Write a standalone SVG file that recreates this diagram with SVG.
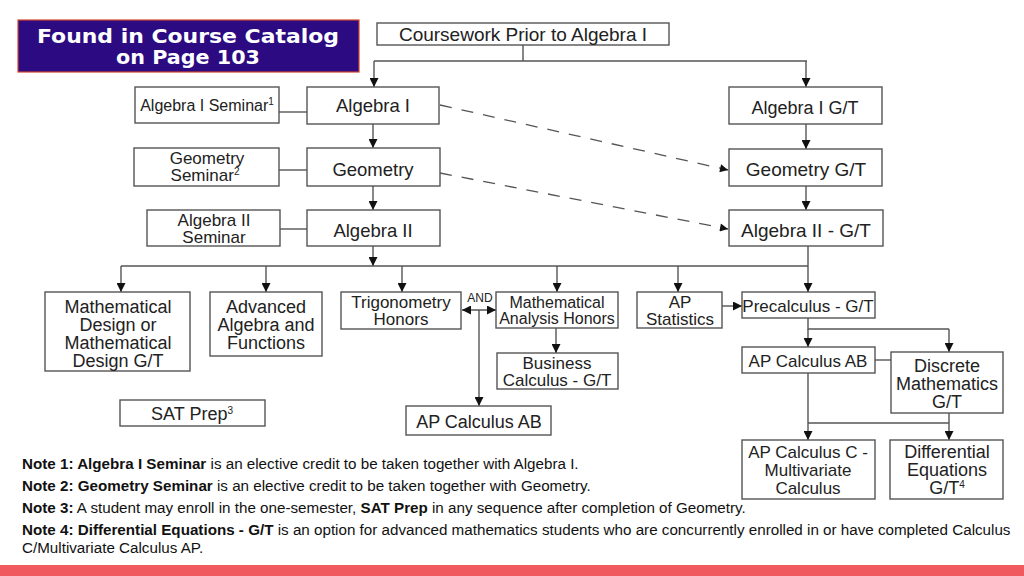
<svg xmlns="http://www.w3.org/2000/svg" width="1024" height="576" viewBox="0 0 1024 576">
<defs>
<style>
.box{fill:#fff;stroke:#555;stroke-width:1.4}
.t{font-family:"Liberation Sans",Arial,sans-serif;font-size:18.5px;fill:#222;text-anchor:middle}
.s16{font-size:16px}
.s17{font-size:17px}
.s18{font-size:18px}
.s19{font-size:19px}
.ln{fill:none;stroke:#555;stroke-width:1.4}
.ar{marker-end:url(#ah)}
.dash{fill:none;stroke:#555;stroke-width:1.3;stroke-dasharray:12 10;marker-end:url(#ah2)}
.note{font-family:"Liberation Sans",Arial,sans-serif;font-size:15.2px;fill:#111}
.b{font-weight:bold}
.sup{font-size:10px}
</style>
<marker id="ah" viewBox="0 0 10 10" refX="10" refY="5" markerWidth="9" markerHeight="9" markerUnits="userSpaceOnUse" orient="auto-start-reverse"><path d="M0,0 L10,5 L0,10 z" fill="#111"/></marker>
<marker id="ah2" viewBox="0 0 10 10" refX="10" refY="5" markerWidth="10" markerHeight="8" markerUnits="userSpaceOnUse" orient="auto"><path d="M0,0 L10,5 L0,10 z" fill="#111"/></marker>
</defs>
<rect width="1024" height="576" fill="#fff"/>

<g id="banner">
<rect x="18" y="20" width="341" height="52" fill="#2B0A82" stroke="#D2452E" stroke-width="1.2"/>
<text x="188" y="43" font-family="DejaVu Sans,Verdana,sans-serif" font-size="19" font-weight="bold" fill="#fff" text-anchor="middle" textLength="302" lengthAdjust="spacingAndGlyphs">Found in Course Catalog</text>
<text x="188" y="64" font-family="DejaVu Sans,Verdana,sans-serif" font-size="19" font-weight="bold" fill="#fff" text-anchor="middle" textLength="144" lengthAdjust="spacingAndGlyphs">on Page 103</text>
</g>

<g id="connectors">
<path class="ln" d="M523,45 V61 M374,61 H807"/>
<path class="ln ar" d="M374,61 V87"/>
<path class="ln ar" d="M806,61 V87"/>
<path class="ln" d="M279,112 H307"/>
<path class="ln" d="M279,170 H307"/>
<path class="ln" d="M280,229 H307"/>
<path class="ln ar" d="M373,124 V148"/>
<path class="ln ar" d="M373,186 V210"/>
<path class="ln ar" d="M806,124 V149"/>
<path class="ln ar" d="M806,186 V210"/>
<path class="dash" d="M440,105 L728,170"/>
<path class="dash" d="M440,173 L728,229"/>
<path class="ln ar" d="M373,246 V266"/>
<path class="ln" d="M121,266 H808 M808,246 V266"/>
<path class="ln ar" d="M121,266 V292"/>
<path class="ln ar" d="M266,266 V292"/>
<path class="ln ar" d="M402,266 V292"/>
<path class="ln ar" d="M557,266 V292"/>
<path class="ln ar" d="M678,266 V292"/>
<path class="ln ar" d="M808,266 V292"/>
<path class="ln ar" d="M462,310 H496" marker-start="url(#ah)"/>
<path class="ln ar" d="M479,310 V406"/>
<path class="ln ar" d="M556,328 V353"/>
<path class="ln ar" d="M722,306 H742"/>
<path class="ln" d="M808,318 V329 H949"/>
<path class="ln ar" d="M808,329 V347"/>
<path class="ln ar" d="M949,329 V352"/>
<path class="ln" d="M875,360 H891"/>
<path class="ln ar" d="M808,373 V440"/>
<path class="ln" d="M808,423 H949"/>
<path class="ln ar" d="M949,413 V440"/>
<text x="480" y="302" font-family="Liberation Sans,Arial,sans-serif" font-size="12" fill="#222" text-anchor="middle">AND</text>
</g>

<g id="coursework"><rect class="box" x="377" y="23" width="292" height="22"/><text class="t s19" x="523" y="41">Coursework Prior to Algebra I</text></g>
<g id="alg1sem"><rect class="box" x="135" y="87" width="144" height="36"/><text class="t s16" x="207" y="111">Algebra I Seminar<tspan class="sup" dy="-6">1</tspan></text></g>
<g id="alg1"><rect class="box" x="307" y="87" width="132" height="37"/><text class="t" x="373" y="112">Algebra I</text></g>
<g id="geosem"><rect class="box" x="134" y="148" width="145" height="38"/><text class="t s17" x="207" y="164">Geometry</text><text class="t s17" x="205" y="181">Seminar<tspan class="sup" dy="-6">2</tspan></text></g>
<g id="geo"><rect class="box" x="307" y="148" width="133" height="38"/><text class="t" x="373" y="176">Geometry</text></g>
<g id="alg2sem"><rect class="box" x="147" y="210" width="133" height="36"/><text class="t s17" x="214" y="226">Algebra II</text><text class="t s17" x="214" y="243">Seminar</text></g>
<g id="alg2"><rect class="box" x="307" y="210" width="133" height="36"/><text class="t" x="373" y="237">Algebra II</text></g>
<g id="alg1gt"><rect class="box" x="729" y="87" width="153" height="37"/><text class="t s18" x="805" y="114">Algebra I G/T</text></g>
<g id="geogt"><rect class="box" x="729" y="149" width="153" height="37"/><text class="t s19" x="806" y="176">Geometry G/T</text></g>
<g id="alg2gt"><rect class="box" x="729" y="210" width="154" height="36"/><text class="t s19" x="806" y="237">Algebra II - G/T</text></g>

<g id="mathdesign"><rect class="box" x="45" y="292" width="145" height="79"/><text class="t s18" x="118" y="313">Mathematical</text><text class="t s18" x="118" y="331">Design or</text><text class="t s18" x="118" y="349">Mathematical</text><text class="t s18" x="118" y="367">Design G/T</text></g>
<g id="advalg"><rect class="box" x="210" y="292" width="112" height="64"/><text class="t s18" x="266" y="313">Advanced</text><text class="t s18" x="266" y="331">Algebra and</text><text class="t s18" x="266" y="349">Functions</text></g>
<g id="trig"><rect class="box" x="341" y="292" width="120" height="37"/><text class="t s17" x="401" y="308">Trigonometry</text><text class="t s17" x="401" y="325">Honors</text></g>
<g id="mathanalysis"><rect class="box" x="496" y="292" width="122" height="36"/><text class="t s16" x="557" y="308">Mathematical</text><text class="t s16" x="557" y="324">Analysis Honors</text></g>
<g id="business"><rect class="box" x="497" y="353" width="121" height="36"/><text class="t s17" x="557" y="369">Business</text><text class="t s17" x="557" y="386">Calculus - G/T</text></g>
<g id="apcalcab1"><rect class="box" x="406" y="406" width="145" height="29"/><text class="t s18" x="479" y="428">AP Calculus AB</text></g>
<g id="apstats"><rect class="box" x="637" y="292" width="85" height="36"/><text class="t s17" x="680" y="308">AP</text><text class="t s17" x="680" y="325">Statistics</text></g>
<g id="precalc"><rect class="box" x="742" y="292" width="133" height="26"/><text class="t s17" x="808" y="312">Precalculus - G/T</text></g>
<g id="apcalcab2"><rect class="box" x="742" y="347" width="133" height="26"/><text class="t s17" x="808" y="367">AP Calculus AB</text></g>
<g id="discrete"><rect class="box" x="891" y="352" width="112" height="61"/><text class="t s18" x="947" y="372">Discrete</text><text class="t s18" x="947" y="390">Mathematics</text><text class="t s18" x="947" y="408">G/T</text></g>
<g id="apcalcc"><rect class="box" x="742" y="440" width="133" height="59"/><text class="t s17" x="808" y="458">AP Calculus C -</text><text class="t s17" x="808" y="476">Multivariate</text><text class="t s17" x="808" y="494">Calculus</text></g>
<g id="diffeq"><rect class="box" x="890" y="440" width="113" height="59"/><text class="t s18" x="947" y="458">Differential</text><text class="t s18" x="947" y="476">Equations</text><text class="t s18" x="947" y="494">G/T<tspan class="sup" dy="-6">4</tspan></text></g>
<g id="satprep"><rect class="box" x="120" y="400" width="145" height="26"/><text class="t s18" x="192" y="420">SAT Prep<tspan class="sup" dy="-6">3</tspan></text></g>

<g id="notes">
<text class="note" x="22" y="469"><tspan class="b">Note 1: Algebra I Seminar</tspan> is an elective credit to be taken together with Algebra I.</text>
<text class="note" x="22" y="491"><tspan class="b">Note 2: Geometry Seminar</tspan> is an elective credit to be taken together with Geometry.</text>
<text class="note" x="22" y="513"><tspan class="b">Note 3:</tspan> A student may enroll in the one-semester, <tspan class="b">SAT Prep</tspan> in any sequence after completion of Geometry.</text>
<text class="note" x="22" y="535"><tspan class="b">Note 4: Differential Equations - G/T</tspan> is an option for advanced mathematics students who are concurrently enrolled in or have completed Calculus</text>
<text class="note" x="22" y="553">C/Multivariate Calculus AP.</text>
</g>

<rect id="bottombar" x="0" y="565" width="1024" height="11" fill="#F05A5E"/>
</svg>
